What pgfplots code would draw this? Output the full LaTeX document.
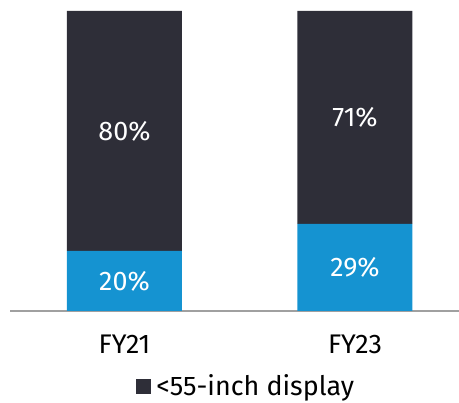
\documentclass[border=0pt]{standalone}
\usepackage{pgfplots}
\pgfplotsset{compat=1.18}
\usepackage{fontspec}
\setmainfont{Fira Sans}
\definecolor{eyblue}{HTML}{1593D1}
\definecolor{eydark}{HTML}{2E2E38}
\definecolor{axgray}{HTML}{A0A0A0}
\pgfplotsset{mybox/.style={at={(10bp,92bp)}, anchor=south west,
  scale only axis, width=449bp, height=300bp,
  xmin=-0.4967, xmax=1.4512, ymin=0, ymax=100}}
\begin{document}
\begin{tikzpicture}
\begin{axis}[
  mybox,
  ybar stacked, bar width=115bp,
  xtick=data, xticklabels={FY21,FY23},
  ytick=\empty,
  axis y line=none,
  axis x line*=bottom,
  x axis line style={axgray, line width=1.2pt, -},
  xtick style={draw=none},
  x tick label style={font=\fontsize{27}{32}\selectfont, text=black, yshift=-20bp},
  legend style={draw=none, at={(0.526,-0.25)}, anchor=center, font=\fontsize{27}{32}\selectfont, legend cell align=left, inner sep=0pt},
  legend image code/.code={\fill[eydark] (0bp,-7.5bp) rectangle (15bp,7.5bp);},
  legend style={/tikz/every even column/.append style={column sep=0bp}},
]
\addplot[fill=eyblue, draw=none, forget plot] coordinates {(0,20) (1,29)};
\addplot[fill=eydark, draw=none] coordinates {(0,80) (1,71)};
\addlegendentry{\hspace{3bp}<55-inch display}
\end{axis}
\begin{axis}[
  mybox, hide axis,
  nodes near coords, point meta=explicit symbolic,
  every node near coord/.append style={font=\fontsize{27}{32}\selectfont, text=white, anchor=center},
]
\addplot[only marks, mark=none] coordinates {(0,10) [20\%] (0,60) [80\%] (1,14.5) [29\%] (1,64.5) [71\%]};
\end{axis}
\pgfresetboundingbox
\path[use as bounding box] (0,0) rectangle (459bp,403bp);
\end{tikzpicture}
\end{document}
